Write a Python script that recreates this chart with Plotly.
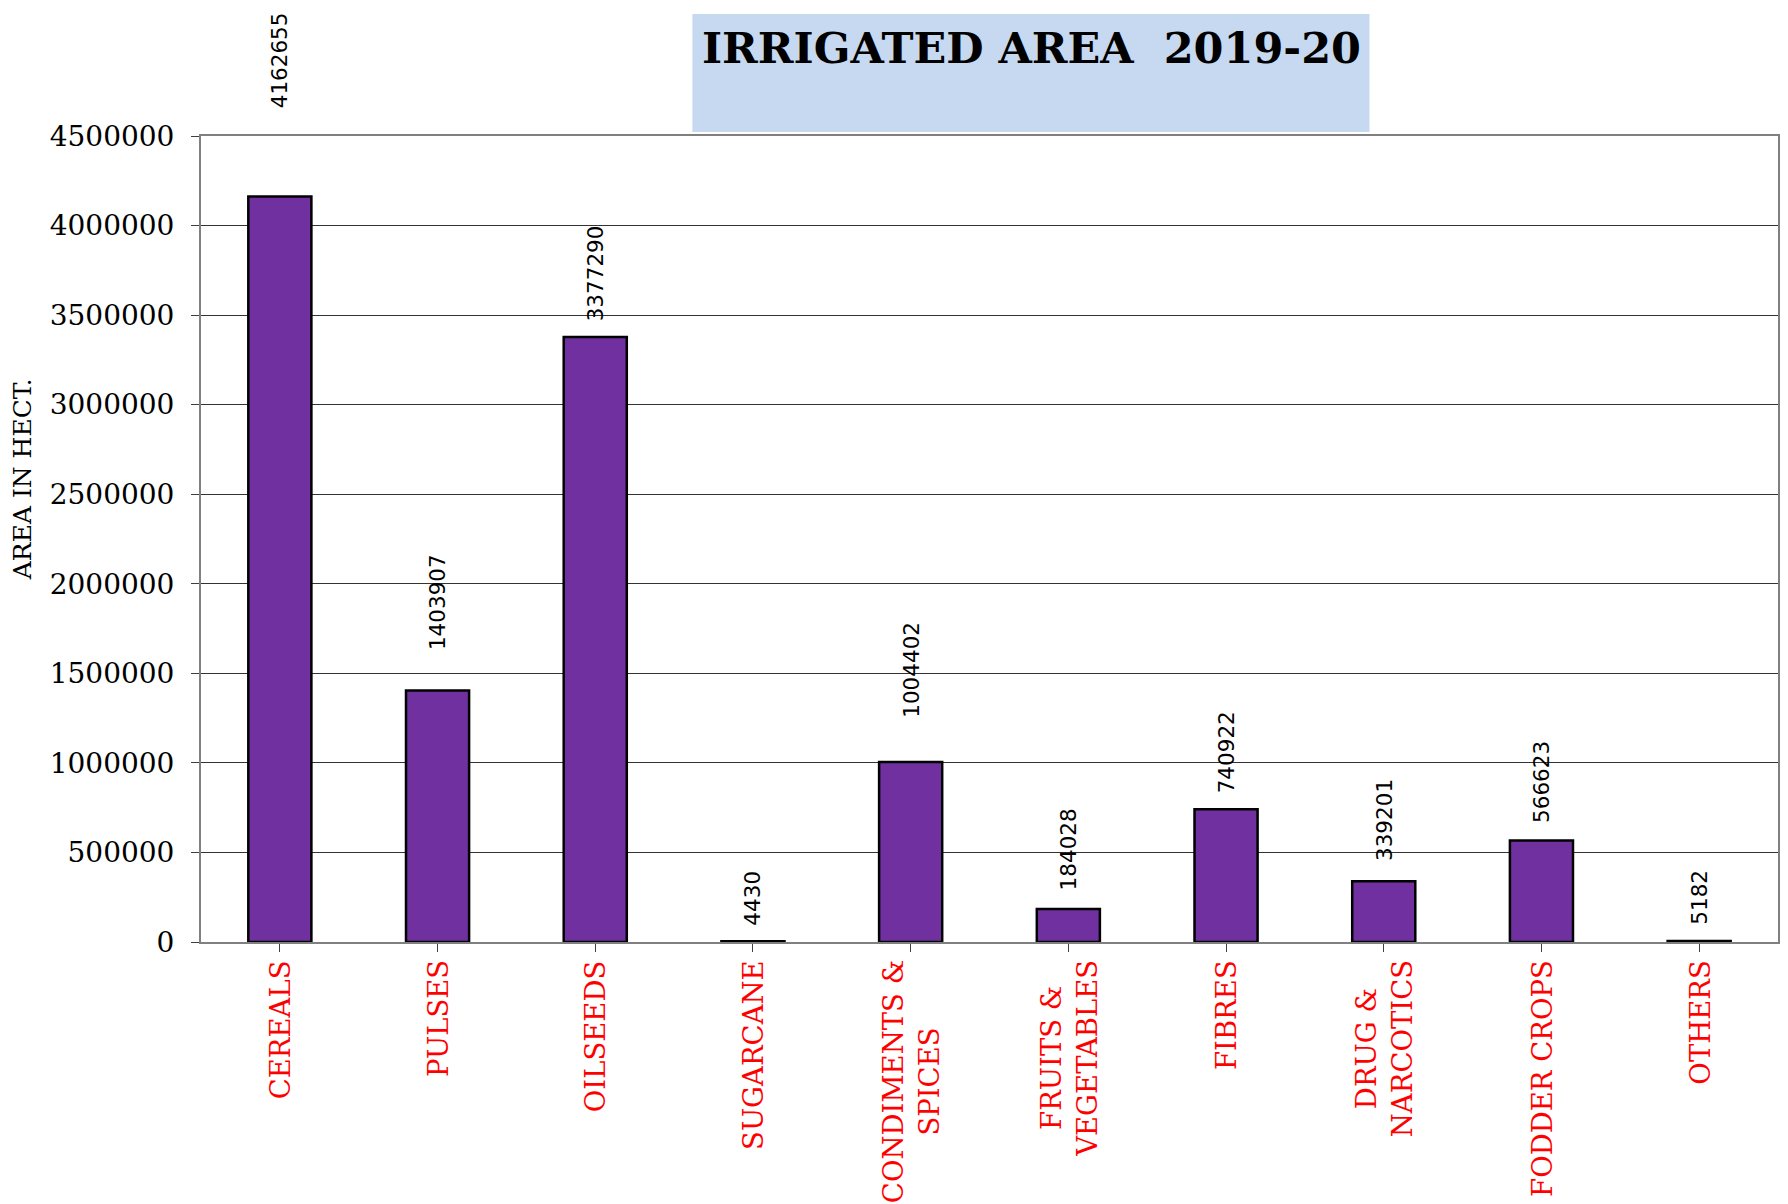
import plotly.graph_objects as go

categories = ["CEREALS", "PULSES", "OILSEEDS", "SUGARCANE", "CONDIMENTS &<br>SPICES",
              "FRUITS &<br>VEGETABLES", "FIBRES", "DRUG &<br>NARCOTICS", "FODDER CROPS", "OTHERS"]
values = [4162655, 1403907, 3377290, 4430, 1004402, 184028, 740922, 339201, 566623, 5182]
label_gap = [86, 38, 14, 14, 42, 17, 14, 18, 16, 14]

title_text = "IRRIGATED AREA\u00a0\u00a02019-20"
y_title = "AREA IN HECT."
y_ticks = [0, 500000, 1000000, 1500000, 2000000, 2500000, 3000000, 3500000, 4000000, 4500000]

# page has an 8px body margin, so the figure is offset by 8px
OFF = 8
W, H = 1788 - OFF, 1204 - OFF
L, R, T, B = 201 - OFF, 8, 136 - OFF, 262
pw, ph = W - L - R, H - T - B

fig = go.Figure()
fig.add_trace(go.Bar(
    x=list(range(len(categories))), y=values,
    marker=dict(color="#7030A0", line=dict(color="black", width=2.5)),
    width=0.4, showlegend=False, hoverinfo="y"))

# data labels
for i, (v, g) in enumerate(zip(values, label_gap)):
    fig.add_annotation(x=i, y=v, xref="x", yref="y", text=str(v), textangle=-90,
                       showarrow=False, xanchor="center", yanchor="bottom", yshift=g,
                       font=dict(family="DejaVu Sans", size=21.5, color="black"))

# category labels
for i, c in enumerate(categories):
    fig.add_annotation(x=i, y=0, xref="x", yref="y", text=c, textangle=-90,
                       showarrow=False, xanchor="center", yanchor="top", yshift=-16,
                       align="center",
                       font=dict(family="DejaVu Serif", size=27.5, color="red"))

# page pixel -> paper coords
def px2x(p):
    return (p - OFF - L) / pw

def py2y(p):
    return (H - B - (p - OFF)) / ph

fig.add_shape(type="rect", xref="paper", yref="paper",
              x0=px2x(693), x1=px2x(1371), y0=py2y(132), y1=py2y(14),
              fillcolor="#C6D9F1", line=dict(width=0), layer="below")
fig.add_annotation(x=px2x(1033), y=py2y(48), xref="paper", yref="paper", text="<b>" + title_text + "</b>",
                   showarrow=False, xanchor="center", yanchor="middle",
                   font=dict(family="DejaVu Serif", size=43, color="black"))

# y axis title
fig.add_annotation(x=px2x(23), y=py2y(479), xref="paper", yref="paper", text=y_title,
                   textangle=-90, showarrow=False, xanchor="center", yanchor="middle",
                   font=dict(family="DejaVu Serif", size=25, color="black"))

fig.update_layout(
    width=W, height=H,
    margin=dict(l=L, r=R, t=T, b=B, pad=0),
    paper_bgcolor="white", plot_bgcolor="white",
    bargap=0.6,
)
fig.update_xaxes(range=[-0.5, len(categories) - 0.5], tickmode="array",
                 tickvals=list(range(len(categories))), showticklabels=False,
                 ticks="outside", tickson="boundaries", ticklen=8, tickcolor="#404040",
                 showline=True, linecolor="#808080", linewidth=2, mirror=True,
                 showgrid=False, zeroline=False)
fig.update_yaxes(range=[0, 4500000], tickmode="array", tickvals=y_ticks,
                 ticktext=[str(t) for t in y_ticks],
                 ticks="outside", ticklen=8, tickcolor="#404040", ticklabelstandoff=11,
                 tickfont=dict(family="DejaVu Serif", size=28, color="black"),
                 showline=True, linecolor="#808080", linewidth=2, mirror=True,
                 showgrid=True, gridcolor="#333333", gridwidth=1, zeroline=False)

fig.write_html("out.html")
